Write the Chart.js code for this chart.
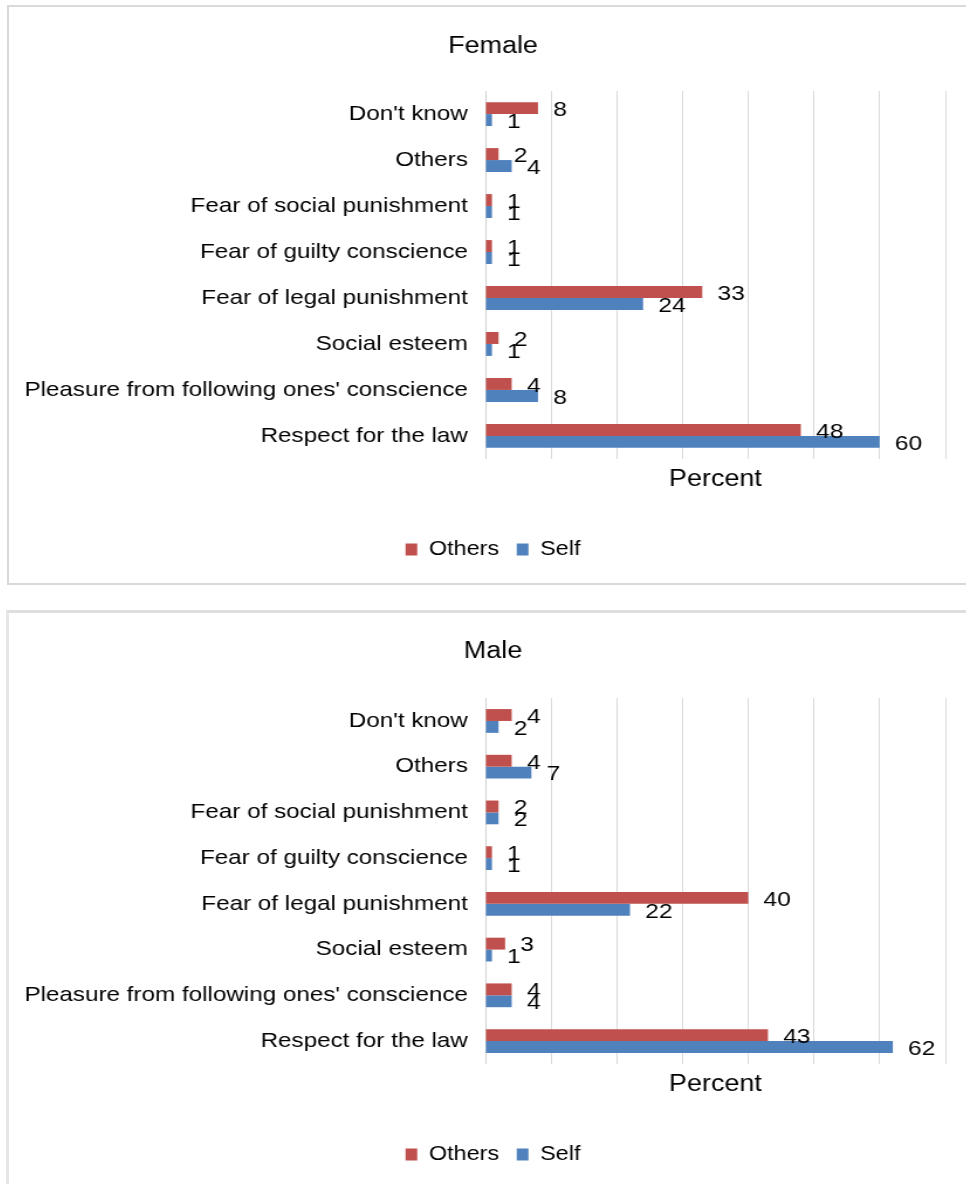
<!DOCTYPE html>
<html>
<head>
<meta charset="utf-8">
<script src="https://cdn.jsdelivr.net/npm/chart.js@4.4.0/dist/chart.umd.min.js"></script>
<style>
  html, body { margin: 0; padding: 0; background: #fff; overflow: hidden; width: 966px; height: 1184px; }
  .panel { position: absolute; background: #fff; overflow: hidden; }
  #pFemale { left: 7px; top: 5px; width: 1000px; height: 576px; border: 2px solid #d9d9d9; border-right: none; }
  #pMale { left: 6px; top: 610px; width: 1000px; height: 620px; border-top: 3px solid #dedede; border-left: 3px solid #e6e6e6; }
  canvas { position: absolute; left: 0; top: 0; }
  #male { top: 1px; }
</style>
</head>
<body>
<div class="panel" id="pFemale"><canvas id="female" width="827" height="574" style="width:968px;height:574px"></canvas></div>
<div class="panel" id="pMale"><canvas id="male" width="827" height="574" style="width:968px;height:574px"></canvas></div>
<script>
// Reasons given for obeying the law, by respondent gender (percent)
const categories = [
  "Don't know",
  "Others",
  "Fear of social punishment",
  "Fear of guilty conscience",
  "Fear of legal punishment",
  "Social esteem",
  "Pleasure from following ones' conscience",
  "Respect for the law"
];
const seriesNames = ["Others", "Self"];
const femaleOthers = [8, 2, 1, 1, 33, 2, 4, 48];
const femaleSelf   = [1, 4, 1, 1, 24, 1, 8, 60];
const maleOthers   = [4, 4, 2, 1, 40, 3, 4, 43];
const maleSelf     = [2, 7, 2, 1, 22, 1, 4, 62];
const axisMin = 0;
const axisMax = 70;
const axisStep = 10;
const axisTitle = "Percent";

const RED = '#C0504D';
const BLUE = '#4F81BD';
const FONT = '"Liberation Sans", Arial, sans-serif';

Chart.defaults.font.family = FONT;
Chart.defaults.color = '#000';

// Writes each bar's value just past the end of the bar
const barValueLabels = {
  id: 'barValueLabels',
  afterDatasetsDraw(chart) {
    const ctx = chart.ctx;
    ctx.save();
    ctx.font = '21px ' + FONT;
    ctx.fillStyle = '#000';
    ctx.textBaseline = 'middle';
    ctx.textAlign = 'left';
    chart.data.datasets.forEach((ds, i) => {
      chart.getDatasetMeta(i).data.forEach((bar, j) => {
        ctx.fillText(String(ds.data[j]), bar.x + 13, bar.y + 2);
      });
    });
    ctx.restore();
  }
};

function makeChart(id, title, others, self, titlePad, padBottom) {
  return new Chart(document.getElementById(id), {
    type: 'bar',
    data: {
      labels: categories,
      datasets: [
        { label: seriesNames[0], data: others, backgroundColor: RED, borderWidth: 0,
          categoryPercentage: 0.52, barPercentage: 1.0 },
        { label: seriesNames[1], data: self, backgroundColor: BLUE, borderWidth: 0,
          categoryPercentage: 0.52, barPercentage: 1.0 }
      ]
    },
    options: {
      indexAxis: 'y',
      responsive: false,
      animation: false,
      devicePixelRatio: 1,
      layout: { padding: { top: 11.5, right: 0, bottom: padBottom, left: 0 } },
      plugins: {
        title: {
          display: true,
          text: title,
          color: '#000',
          font: { size: 23, weight: 'normal' },
          padding: titlePad
        },
        legend: {
          display: true,
          position: 'bottom',
          labels: {
            boxWidth: 10,
            boxHeight: 12,
            padding: 15,
            color: '#000',
            font: { size: 20 }
          }
        },
        tooltip: { enabled: false }
      },
      scales: {
        x: {
          min: axisMin,
          max: axisMax,
          ticks: { display: false, stepSize: axisStep },
          grid: { color: '#d9d9d9', lineWidth: 1, drawTicks: false },
          border: { display: false },
          title: {
            display: true,
            text: axisTitle,
            color: '#000',
            font: { size: 23 },
            padding: { top: 7, bottom: 31 }
          },
          // keep an empty margin to the right of the last gridline
          afterFit(scale) { scale.paddingRight = 27; }
        },
        y: {
          ticks: { color: '#000', font: { size: 20.7 }, padding: 15, autoSkip: false },
          grid: { display: false, drawTicks: false },
          border: { display: true, color: '#d0d0d0', width: 1 },
          afterFit(scale) { scale.width = 407; }
        }
      }
    },
    plugins: [barValueLabels]
  });
}

makeChart('female', 'Female', femaleOthers, femaleSelf, { top: 14, bottom: 31 }, 11.5);
makeChart('male', 'Male', maleOthers, maleSelf, { top: 12, bottom: 33 }, 13.5);
</script>
</body>
</html>
